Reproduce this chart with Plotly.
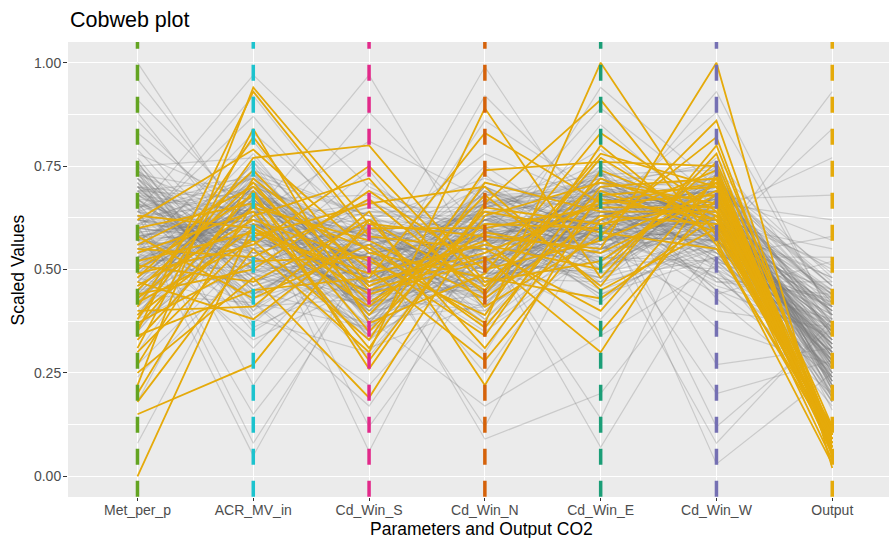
import plotly.graph_objects as go

params = ["Met_per_p", "ACR_MV_in", "Cd_Win_S", "Cd_Win_N", "Cd_Win_E", "Cd_Win_W", "Output"]
axis_colors = ["#63A421", "#1CC3CE", "#E2298A", "#D5620A", "#1B9E77", "#7570B3", "#E5AA0A"]
y_ticks = [0.0, 0.25, 0.5, 0.75, 1.0]
y_tick_labels = ["0.00", "0.25", "0.50", "0.75", "1.00"]

# ---- background (grey) runs, one value per parameter ----
grey_met = [0.62, 0.48, 0.71, 0.55, 0.39, 0.66, 0.52, 0.74, 0.44, 0.58,
            0.69, 0.35, 0.61, 0.50, 0.77, 0.46, 0.64, 0.57, 0.41, 0.72,
            0.53, 0.67, 0.30, 0.59, 0.75, 0.49, 0.63, 0.43, 0.70, 0.56,
            0.81, 0.47, 0.65, 0.38, 0.60, 0.54, 0.73, 0.42, 0.68, 0.51,
            0.96, 0.58, 0.45, 0.66, 0.33, 0.62, 0.55, 0.79, 0.48, 0.70,
            0.57, 0.40, 0.64, 0.52, 0.76, 0.46, 0.61, 0.68, 0.37, 0.59,
            0.72, 0.50, 0.86, 0.44, 0.63, 0.55, 0.69, 0.41, 0.74, 0.53,
            0.60, 0.27, 0.67, 0.49, 0.58, 0.71, 0.45, 0.65, 0.52, 0.78,
            0.56, 0.62, 0.36, 0.69, 0.47, 0.73, 0.54, 0.60, 0.42, 0.66,
            0.91, 0.51, 0.64, 0.57, 0.39, 0.70, 0.48, 0.75, 0.55, 0.61,
            0.44, 0.68, 0.53, 0.18, 0.63, 0.59, 0.72, 0.46, 0.67, 0.50,
            0.57, 0.74, 0.43, 0.65, 0.52, 1.00, 0.60, 0.49, 0.70, 0.56,
            0.58, 0.66, 0.45, 0.73, 0.51, 0.62, 0.39, 0.69, 0.55, 0.48,
            0.76, 0.60, 0.43, 0.67, 0.53, 0.71, 0.35, 0.64, 0.57, 0.50,
            0.68, 0.46, 0.74, 0.59, 0.41, 0.63, 0.54, 0.70, 0.24, 0.61,
            0.49, 0.72, 0.56, 0.65, 0.44, 0.83, 0.52, 0.60, 0.67, 0.38,
            0.57, 0.70, 0.47, 0.62, 0.54, 0.75, 0.42, 0.66, 0.58, 0.51,
            0.69, 0.45, 0.63, 0.08, 0.59, 0.73, 0.50, 0.64, 0.56, 0.88]
grey_acr = [0.55, 0.68, 0.42, 0.61, 0.73, 0.50, 0.64, 0.38, 0.70, 0.57,
            0.46, 0.66, 0.59, 0.78, 0.44, 0.62, 0.52, 0.71, 0.65, 0.40,
            0.58, 0.48, 0.69, 0.55, 0.36, 0.74, 0.60, 0.67, 0.45, 0.63,
            0.51, 0.72, 0.08, 0.66, 0.57, 0.41, 0.62, 0.76, 0.53, 0.69,
            0.60, 0.47, 0.70, 0.35, 0.64, 0.56, 0.81, 0.49, 0.67, 0.43,
            0.73, 0.61, 0.54, 0.68, 0.39, 0.63, 0.72, 0.50, 0.58, 0.92,
            0.46, 0.65, 0.57, 0.70, 0.52, 0.44, 0.67, 0.60, 0.22, 0.75,
            0.62, 0.55, 0.48, 0.71, 0.64, 0.37, 0.59, 0.69, 0.53, 0.66,
            0.43, 0.70, 0.61, 0.56, 0.74, 0.50, 0.65, 0.31, 0.68, 0.58,
            0.63, 0.47, 0.72, 0.54, 0.66, 0.60, 0.41, 0.77, 0.52, 0.69,
            0.57, 0.64, 0.49, 0.71, 0.15, 0.62, 0.55, 0.67, 0.45, 0.73,
            0.60, 0.53, 0.68, 0.42, 0.65, 0.58, 0.87, 0.51, 0.63, 0.70,
            0.63, 0.52, 0.70, 0.45, 0.66, 0.58, 0.74, 0.49, 0.61, 0.68,
            0.40, 0.57, 0.72, 0.54, 0.64, 0.47, 0.69, 0.60, 0.33, 0.66,
            0.55, 0.71, 0.50, 0.62, 0.76, 0.44, 0.59, 0.67, 0.53, 0.05,
            0.65, 0.48, 0.58, 0.73, 0.42, 0.61, 0.69, 0.56, 0.64, 0.51,
            0.70, 0.46, 0.63, 0.59, 0.83, 0.54, 0.67, 0.38, 0.62, 0.57,
            0.72, 0.49, 0.66, 0.60, 0.44, 0.68, 0.55, 0.97, 0.61, 0.53]
grey_cds = [0.45, 0.58, 0.36, 0.52, 0.63, 0.41, 0.55, 0.30, 0.60, 0.48,
            0.67, 0.39, 0.53, 0.44, 0.57, 0.34, 0.62, 0.47, 0.50, 0.71,
            0.42, 0.56, 0.38, 0.64, 0.49, 0.33, 0.59, 0.45, 0.54, 0.40,
            0.61, 0.46, 0.52, 0.12, 0.57, 0.43, 0.66, 0.50, 0.37, 0.55,
            0.48, 0.62, 0.41, 0.53, 0.58, 0.35, 0.47, 0.69, 0.44, 0.51,
            0.39, 0.56, 0.60, 0.46, 0.52, 0.31, 0.63, 0.49, 0.43, 0.57,
            0.54, 0.40, 0.65, 0.48, 0.36, 0.59, 0.45, 0.51, 0.62, 0.42,
            0.50, 0.88, 0.44, 0.55, 0.38, 0.61, 0.47, 0.53, 0.41, 0.58,
            0.64, 0.37, 0.49, 0.56, 0.43, 0.52, 0.06, 0.60, 0.46, 0.54,
            0.40, 0.57, 0.50, 0.45, 0.63, 0.39, 0.55, 0.48, 0.74, 0.42,
            0.53, 0.59, 0.35, 0.47, 0.51, 0.44, 0.60, 0.38, 0.56, 0.49,
            0.62, 0.45, 0.52, 0.22, 0.58, 0.41, 0.54, 0.47, 0.97, 0.50,
            0.51, 0.44, 0.59, 0.37, 0.55, 0.48, 0.63, 0.41, 0.53, 0.46,
            0.58, 0.34, 0.50, 0.61, 0.43, 0.56, 0.39, 0.65, 0.47, 0.52,
            0.29, 0.57, 0.45, 0.60, 0.40, 0.54, 0.49, 0.68, 0.42, 0.55,
            0.36, 0.62, 0.48, 0.51, 0.17, 0.58, 0.44, 0.53, 0.39, 0.61,
            0.47, 0.56, 0.81, 0.43, 0.59, 0.50, 0.38, 0.54, 0.46, 0.64,
            0.41, 0.57, 0.52, 0.33, 0.60, 0.49, 0.45, 0.70, 0.53, 0.40]
grey_cdn = [0.58, 0.47, 0.66, 0.53, 0.42, 0.70, 0.55, 0.62, 0.39, 0.60,
            0.51, 0.68, 0.45, 0.57, 0.64, 0.49, 0.72, 0.41, 0.59, 0.54,
            0.63, 0.48, 0.56, 0.36, 0.67, 0.52, 0.44, 0.61, 0.58, 0.70,
            0.46, 0.55, 0.62, 0.50, 0.09, 0.65, 0.57, 0.43, 0.69, 0.53,
            0.60, 0.38, 0.56, 0.64, 0.48, 0.73, 0.52, 0.59, 0.45, 0.66,
            0.54, 0.61, 0.47, 0.57, 0.68, 0.42, 0.63, 0.55, 0.92, 0.50,
            0.58, 0.44, 0.65, 0.52, 0.60, 0.37, 0.56, 0.71, 0.49, 0.62,
            0.46, 0.59, 0.54, 0.66, 0.41, 0.57, 0.63, 0.50, 0.69, 0.25,
            0.61, 0.53, 0.47, 0.64, 0.56, 0.43, 0.60, 0.52, 0.67, 0.48,
            0.55, 0.78, 0.58, 0.45, 0.62, 0.51, 0.57, 0.64, 0.40, 0.59,
            0.66, 0.49, 0.54, 0.61, 0.44, 0.70, 0.56, 0.17, 0.63, 0.52,
            0.58, 0.46, 0.65, 0.53, 0.60, 0.48, 0.57, 0.62, 0.50, 0.99,
            0.55, 0.62, 0.49, 0.67, 0.44, 0.59, 0.53, 0.71, 0.47, 0.61,
            0.38, 0.57, 0.64, 0.50, 0.69, 0.45, 0.60, 0.54, 0.75, 0.48,
            0.63, 0.41, 0.58, 0.52, 0.66, 0.30, 0.61, 0.56, 0.47, 0.68,
            0.53, 0.60, 0.43, 0.65, 0.57, 0.50, 0.86, 0.55, 0.62, 0.46,
            0.59, 0.52, 0.67, 0.40, 0.63, 0.56, 0.49, 0.12, 0.58, 0.64,
            0.51, 0.70, 0.45, 0.61, 0.55, 0.66, 0.48, 0.57, 0.35, 0.62]
grey_cde = [0.63, 0.55, 0.71, 0.48, 0.66, 0.59, 0.75, 0.52, 0.68, 0.45,
            0.61, 0.73, 0.57, 0.64, 0.50, 0.69, 0.62, 0.77, 0.54, 0.66,
            0.47, 0.60, 0.70, 0.56, 0.65, 0.42, 0.72, 0.58, 0.63, 0.51,
            0.67, 0.74, 0.55, 0.61, 0.20, 0.69, 0.53, 0.64, 0.59, 0.71,
            0.46, 0.66, 0.62, 0.57, 0.73, 0.50, 0.68, 0.60, 0.65, 0.54,
            0.70, 0.44, 0.63, 0.58, 0.67, 0.61, 0.76, 0.52, 0.64, 0.69,
            0.56, 0.62, 0.71, 0.49, 0.66, 0.59, 0.07, 0.65, 0.57, 0.73,
            0.60, 0.67, 0.53, 0.63, 0.70, 0.48, 0.61, 0.68, 0.55, 0.64,
            0.72, 0.58, 0.66, 0.43, 0.62, 0.69, 0.57, 0.64, 0.51, 0.74,
            0.60, 0.66, 0.54, 0.70, 0.63, 0.85, 0.59, 0.67, 0.61, 0.56,
            0.68, 0.50, 0.65, 0.62, 0.71, 0.58, 0.64, 0.34, 0.69, 0.60,
            0.55, 0.66, 0.72, 0.59, 0.63, 0.47, 0.68, 0.61, 0.94, 0.57,
            0.66, 0.58, 0.73, 0.53, 0.69, 0.61, 0.47, 0.64, 0.71, 0.56,
            0.62, 0.68, 0.50, 0.75, 0.59, 0.65, 0.44, 0.70, 0.57, 0.63,
            0.79, 0.55, 0.67, 0.60, 0.52, 0.72, 0.64, 0.14, 0.58, 0.69,
            0.62, 0.49, 0.66, 0.74, 0.57, 0.63, 0.68, 0.54, 0.71, 0.60,
            0.65, 0.38, 0.61, 0.67, 0.58, 0.73, 0.52, 0.64, 0.89, 0.59,
            0.70, 0.56, 0.62, 0.66, 0.48, 0.72, 0.60, 0.65, 0.55, 0.68]
grey_cdw = [0.60, 0.68, 0.52, 0.73, 0.57, 0.64, 0.47, 0.70, 0.61, 0.55,
            0.66, 0.50, 0.72, 0.58, 0.63, 0.45, 0.69, 0.56, 0.75, 0.62,
            0.53, 0.67, 0.59, 0.71, 0.48, 0.65, 0.61, 0.54, 0.70, 0.57,
            0.64, 0.43, 0.68, 0.60, 0.56, 0.12, 0.66, 0.51, 0.73, 0.62,
            0.58, 0.69, 0.46, 0.64, 0.55, 0.71, 0.60, 0.67, 0.52, 0.77,
            0.63, 0.57, 0.70, 0.49, 0.65, 0.61, 0.54, 0.68, 0.59, 0.72,
            0.40, 0.66, 0.62, 0.56, 0.03, 0.69, 0.53, 0.64, 0.60, 0.74,
            0.58, 0.65, 0.50, 0.71, 0.63, 0.55, 0.67, 0.61, 0.57, 0.88,
            0.62, 0.48, 0.69, 0.59, 0.66, 0.54, 0.72, 0.60, 0.64, 0.27,
            0.57, 0.70, 0.63, 0.52, 0.68, 0.61, 0.58, 0.65, 0.44, 0.73,
            0.60, 0.66, 0.55, 0.62, 0.70, 0.57, 0.64, 0.51, 0.67, 0.63,
            0.59, 0.72, 0.56, 0.65, 0.61, 0.68, 0.53, 0.36, 0.70, 0.62,
            0.63, 0.57, 0.70, 0.52, 0.66, 0.61, 0.74, 0.55, 0.68, 0.59,
            0.48, 0.65, 0.71, 0.58, 0.62, 0.69, 0.53, 0.76, 0.60, 0.66,
            0.56, 0.63, 0.45, 0.70, 0.61, 0.57, 0.67, 0.73, 0.08, 0.64,
            0.59, 0.68, 0.54, 0.62, 0.71, 0.50, 0.66, 0.60, 0.75, 0.57,
            0.63, 0.69, 0.20, 0.58, 0.65, 0.61, 0.72, 0.55, 0.67, 0.62,
            0.59, 0.74, 0.47, 0.64, 0.68, 0.57, 0.93, 0.61, 0.66, 0.53]
grey_out = [0.32, 0.25, 0.41, 0.19, 0.36, 0.28, 0.47, 0.22, 0.38, 0.30,
            0.44, 0.17, 0.34, 0.27, 0.51, 0.24, 0.39, 0.31, 0.21, 0.45,
            0.29, 0.35, 0.18, 0.42, 0.26, 0.33, 0.55, 0.23, 0.37, 0.28,
            0.40, 0.20, 0.31, 0.48, 0.25, 0.36, 0.62, 0.29, 0.34, 0.22,
            0.43, 0.27, 0.38, 0.19, 0.32, 0.46, 0.24, 0.35, 0.30, 0.41,
            0.26, 0.37, 0.21, 0.33, 0.50, 0.28, 0.39, 0.23, 0.44, 0.31,
            0.36, 0.18, 0.29, 0.42, 0.25, 0.34, 0.58, 0.27, 0.40, 0.22,
            0.32, 0.45, 0.26, 0.37, 0.20, 0.35, 0.29, 0.48, 0.24, 0.39,
            0.30, 0.43, 0.21, 0.33, 0.27, 0.41, 0.23, 0.36, 0.77, 0.31,
            0.38, 0.25, 0.44, 0.28, 0.34, 0.19, 0.40, 0.30, 0.52, 0.26,
            0.35, 0.22, 0.39, 0.29, 0.46, 0.32, 0.24, 0.37, 0.20, 0.43,
            0.28, 0.36, 0.93, 0.31, 0.41, 0.23, 0.34, 0.27, 0.47, 0.33,
            0.29, 0.37, 0.22, 0.42, 0.26, 0.33, 0.48, 0.20, 0.39, 0.31,
            0.25, 0.44, 0.35, 0.18, 0.40, 0.28, 0.53, 0.23, 0.36, 0.30,
            0.45, 0.27, 0.34, 0.16, 0.41, 0.32, 0.68, 0.24, 0.38, 0.29,
            0.21, 0.43, 0.33, 0.27, 0.49, 0.36, 0.25, 0.40, 0.19, 0.35,
            0.31, 0.46, 0.28, 0.84, 0.37, 0.23, 0.42, 0.30, 0.26, 0.39,
            0.34, 0.21, 0.44, 0.32, 0.57, 0.28, 0.38, 0.24, 0.41, 0.30]

# ---- highlighted (lowest-output) runs ----
gold_met = [0.00, 0.15, 0.18, 0.20, 0.22, 0.25, 0.27, 0.30, 0.31, 0.33, 0.34, 0.35,
            0.36, 0.37, 0.38, 0.39, 0.40, 0.41, 0.42, 0.43, 0.44, 0.45, 0.46, 0.47,
            0.48, 0.49, 0.50, 0.51, 0.52, 0.54, 0.55, 0.56, 0.58, 0.60, 0.62, 0.63]
gold_acr = [0.61, 0.27, 0.55, 0.66, 0.94, 0.48, 0.72, 0.58, 0.84, 0.63, 0.45, 0.93,
            0.69, 0.52, 0.77, 0.60, 0.41, 0.82, 0.57, 0.65, 0.50, 0.71, 0.62, 0.38,
            0.74, 0.56, 0.68, 0.47, 0.59, 0.64, 0.53, 0.70, 0.43, 0.66, 0.79, 0.60]
gold_cds = [0.44, 0.62, 0.30, 0.55, 0.61, 0.19, 0.50, 0.66, 0.37, 0.72, 0.48, 0.58,
            0.26, 0.53, 0.80, 0.41, 0.64, 0.46, 0.33, 0.57, 0.69, 0.39, 0.52, 0.60,
            0.45, 0.75, 0.35, 0.62, 0.49, 0.31, 0.67, 0.42, 0.56, 0.28, 0.54, 0.47]
gold_cdn = [0.52, 0.45, 0.89, 0.37, 0.58, 0.63, 0.28, 0.70, 0.49, 0.41, 0.83, 0.55,
            0.66, 0.34, 0.47, 0.61, 0.22, 0.57, 0.74, 0.43, 0.50, 0.68, 0.39, 0.60,
            0.53, 0.46, 0.64, 0.31, 0.56, 0.71, 0.44, 0.59, 0.36, 0.65, 0.48, 0.54]
gold_cde = [0.67, 0.78, 0.48, 1.00, 0.55, 0.71, 0.62, 0.45, 0.83, 0.58, 0.66, 0.40,
            0.91, 0.74, 0.52, 0.60, 0.69, 0.35, 0.76, 0.63, 0.57, 0.46, 0.80, 0.65,
            0.30, 0.72, 0.59, 0.68, 0.50, 0.64, 0.77, 0.54, 0.70, 0.61, 0.43, 0.66]
gold_cdw = [0.62, 0.70, 0.78, 0.58, 1.00, 0.66, 0.74, 0.60, 0.64, 0.86, 0.68, 0.72,
            0.56, 0.63, 0.71, 0.82, 0.59, 0.67, 0.75, 0.61, 0.69, 0.80, 0.57, 0.65,
            0.73, 0.62, 0.55, 0.70, 0.76, 0.64, 0.60, 0.68, 0.72, 0.66, 0.63, 0.71]
gold_out = [0.08, 0.10, 0.05, 0.11, 0.02, 0.09, 0.07, 0.12, 0.10, 0.06, 0.09, 0.11,
            0.08, 0.04, 0.10, 0.07, 0.12, 0.09, 0.06, 0.11, 0.08, 0.10, 0.03, 0.09,
            0.07, 0.11, 0.10, 0.08, 0.12, 0.06, 0.09, 0.11, 0.07, 0.10, 0.08, 0.05]

grey_cols = [grey_met, grey_acr, grey_cds, grey_cdn, grey_cde, grey_cdw, grey_out]
gold_cols = [gold_met, gold_acr, gold_cds, gold_cdn, gold_cde, gold_cdw, gold_out]
xpos = list(range(len(params)))

fig = go.Figure()
for i in range(len(grey_met)):
    fig.add_trace(go.Scatter(x=xpos, y=[c[i] for c in grey_cols], mode="lines",
                             line=dict(color="rgba(125,125,125,0.30)", width=1.2),
                             hoverinfo="skip", showlegend=False))
for i in range(len(gold_met)):
    fig.add_trace(go.Scatter(x=xpos, y=[c[i] for c in gold_cols], mode="lines",
                             line=dict(color="#E5AA0A", width=1.8),
                             hoverinfo="skip", showlegend=False))
for k, col in enumerate(axis_colors):
    fig.add_trace(go.Scatter(x=[k, k], y=[1.0726, -0.06], mode="lines",
                             line=dict(color=col, width=3.5, dash="16px,16px"),
                             hoverinfo="skip", showlegend=False))

font_family = "Liberation Sans, Arial, sans-serif"
fig.update_layout(
    width=889, height=538,
    margin=dict(l=68, r=0, t=42, b=41),
    paper_bgcolor="white", plot_bgcolor="#EBEBEB",
    font=dict(family=font_family, color="#4D4D4D", size=14),
    xaxis=dict(range=[-0.6, 6.49], tickvals=xpos, ticktext=params,
               showgrid=True, gridcolor="white", gridwidth=1.1, zeroline=False,
               ticks="outside", ticklen=3, tickcolor="#333333", tickwidth=1,
               ticklabelstandoff=-3,
               tickfont=dict(size=14, color="#4D4D4D"), showline=False),
    yaxis=dict(range=[-0.05, 1.05], tickvals=y_ticks, ticktext=y_tick_labels,
               showgrid=True, gridcolor="white", gridwidth=1.1, zeroline=False,
               ticks="outside", ticklen=4, tickcolor="#333333", tickwidth=1,
               ticklabelstandoff=-1,
               tickfont=dict(size=14, color="#4D4D4D"), showline=False,
               minor=dict(tickvals=[0.125, 0.375, 0.625, 0.875], showgrid=True,
                          gridcolor="white", gridwidth=0.55, ticks="")),
    annotations=[
        dict(text="Cobweb plot", xref="paper", yref="paper", x=0, y=1.048,
             xanchor="left", yanchor="middle", showarrow=False,
             font=dict(size=21.5, color="black", family=font_family)),
        dict(text="Parameters and Output CO2", xref="paper", yref="paper", x=0.504, y=-0.0705,
             xanchor="center", yanchor="middle", showarrow=False,
             font=dict(size=17.5, color="black", family=font_family)),
        dict(text="Scaled Values", xref="paper", yref="paper", x=-0.061, y=0.5,
             xanchor="center", yanchor="middle", showarrow=False, textangle=-90,
             font=dict(size=17.5, color="black", family=font_family)),
    ],
)
fig.write_html("out.html", config={"displayModeBar": False})

# remove the browser's default page margin so the figure sits at (0, 0)
with open("out.html", "r", encoding="utf-8") as fh:
    html = fh.read()
html = html.replace("<head>", "<head><style>html,body{margin:0;padding:0;overflow:hidden;}</style>", 1)
with open("out.html", "w", encoding="utf-8") as fh:
    fh.write(html)
